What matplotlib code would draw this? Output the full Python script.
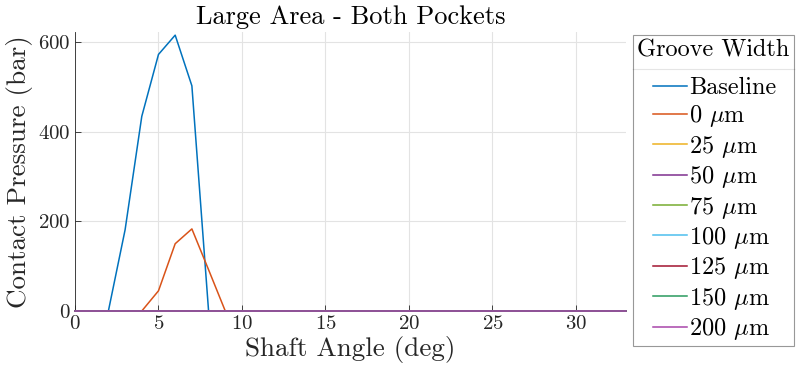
import matplotlib
matplotlib.use("Agg")
import numpy as np
import matplotlib.pyplot as plt
from matplotlib.lines import Line2D
from matplotlib.legend_handler import HandlerLine2D

plt.rcParams['font.family'] = 'cmr10'
plt.rcParams['mathtext.fontset'] = 'cm'
plt.rcParams['axes.formatter.use_mathtext'] = True

# shaft angle (deg), 1 deg steps
angle = list(range(0, 34))

baseline = [0, 0, 0, 181, 434, 572, 615, 502, 0] + [0] * 25
groove_0 = [0, 0, 0, 0, 0, 45, 150, 183, 92, 0] + [0] * 24
zeros = [0] * 34

labels = ['Baseline', r'0 $\mu$m', r'25 $\mu$m', r'50 $\mu$m', r'75 $\mu$m',
          r'100 $\mu$m', r'125 $\mu$m', r'150 $\mu$m', r'200 $\mu$m']
series = [baseline, groove_0, zeros, zeros, zeros, zeros, zeros, zeros, zeros]
colors = ['#0072BD', '#D95319', '#EDB120', '#7E2F8E', '#77AC30',
          '#4DBEEE', '#A2142F', '#2A9A5E', '#A845AA']


class ShortLine(HandlerLine2D):
    # matlab style: legend line only on the right part of the handle box
    def create_artists(self, legend, orig_handle, xdescent, ydescent,
                       width, height, fontsize, trans):
        arts = super().create_artists(legend, orig_handle, xdescent, ydescent,
                                      width, height, fontsize, trans)
        for a in arts:
            xd = np.asarray(a.get_xdata(), dtype=float)
            if len(xd) >= 2:
                x0, x1 = xd[0], xd[-1]
                a.set_xdata(np.linspace(x0 + 0.31 * (x1 - x0), x1, len(xd)))
        return arts


fig = plt.figure(figsize=(8, 3.76), dpi=100)
W, H = 800, 376
ax = fig.add_axes([75 / W, 1 - 311 / H, (626 - 75) / W, (311 - 32) / H])

for y, c, lab in zip(series, colors, labels):
    ax.plot(angle, y, color=c, lw=1.1, label=lab, clip_on=False, zorder=3)

ax.set_xlim(0, 33)
ax.set_ylim(0, 622)
ax.set_xticks([0, 5, 10, 15, 20, 25, 30])
ax.set_yticks([0, 200, 400, 600])
ax.grid(True, color='#e3e3e3', lw=0.8)
ax.set_axisbelow(True)
for s in ['top', 'right']:
    ax.spines[s].set_visible(False)
for s in ['left', 'bottom']:
    ax.spines[s].set_color('#262626')
    ax.spines[s].set_linewidth(0.6)
ax.tick_params(direction='in', length=4, width=0.6, colors='#262626',
               labelsize=15, pad=3)

ax.set_xlabel('Shaft Angle (deg)', fontsize=19.5, color='#262626', labelpad=2)
ax.set_ylabel('Contact Pressure (bar)', fontsize=19.5, color='#262626', labelpad=4)
ax.set_title('Large Area - Both Pockets', fontsize=19, pad=6)

leg = fig.legend(loc='upper left', bbox_to_anchor=(633 / W, 1 - 35 / H),
                 title='Groove Width', fontsize=17.5, title_fontsize=17.5,
                 frameon=True, fancybox=False, edgecolor='#7f7f7f',
                 handlelength=2.04, handletextpad=0.1, labelspacing=0.18,
                 borderpad=0.18, borderaxespad=0, alignment='left',
                 handler_map={Line2D: ShortLine()})
leg.get_frame().set_linewidth(0.8)
# a bit more room between the title and the entries
leg._legend_box.sep = leg._legend_box.sep + 8

fig.canvas.draw()
bb = leg.get_window_extent()
sep_y = (bb.y1 - 34) / H
fig.add_artist(Line2D([bb.x0 / W, bb.x1 / W], [sep_y, sep_y],
                      transform=fig.transFigure, color='#7f7f7f', lw=0.8))

fig.savefig('out.png', dpi=100)
